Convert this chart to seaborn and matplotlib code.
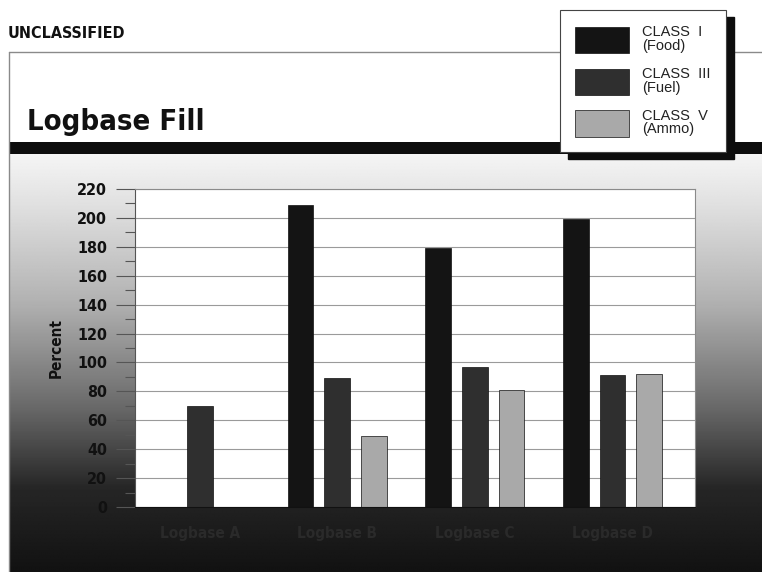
import numpy as np
import pandas as pd
import matplotlib
matplotlib.use("Agg")
import matplotlib.pyplot as plt
from matplotlib.patches import Rectangle
from matplotlib.ticker import MultipleLocator
import seaborn as sns

# data
logbases = ["Logbase A", "Logbase B", "Logbase C", "Logbase D"]
class_i = [np.nan, 209, 179, 199]
class_iii = [70, 89, 97, 91]
class_v = [np.nan, 49, 81, 92]
classes = ["CLASS  I\n(Food)", "CLASS  III\n(Fuel)", "CLASS  V\n(Ammo)"]
colors = ["#141414", "#2f2f2f", "#a9a9a9"]

df = pd.DataFrame({
    "logbase": logbases * 3,
    "cls": [classes[0]] * 4 + [classes[1]] * 4 + [classes[2]] * 4,
    "pct": class_i + class_iii + class_v,
})

sns.set_style("white")
plt.rcParams["font.family"] = ["Liberation Sans", "DejaVu Sans"]
cond = dict(family="DejaVu Sans", stretch="condensed", fontweight="bold")

W, H = 762, 572
fig = plt.figure(figsize=(W / 100, H / 100), dpi=100)
fig.patch.set_facecolor("white")

# background: page frame + dark gradient under the chart
bg = fig.add_axes([0, 0, 1, 1], zorder=-10)
bg.set_xlim(0, W)
bg.set_ylim(H, 0)
bg.axis("off")
t = np.linspace(0, 1, 300)
shade = np.interp(t, [0, 0.12, 0.35, 0.6, 0.8, 1], [0.96, 0.88, 0.7, 0.42, 0.15, 0.07])
grad = np.tile(shade[:, None], (1, 50))
bg.imshow(grad, cmap="gray", vmin=0, vmax=1, aspect="auto",
          extent=(9, W, H, 154), interpolation="bilinear")
bg.plot([9, W], [52, 52], color="#8a8a8a", lw=1)
bg.plot([9, 9], [52, H], color="#8a8a8a", lw=1)
bg.add_patch(Rectangle((9, 142), W - 9, 12, color="#0d0d0d", lw=0))
bg.text(8, 33, "UNCLASSIFIED", fontsize=11.5, va="center", color="#111111", **cond)
bg.text(27, 122, "Logbase Fill", fontsize=21, va="center", color="#111111", **cond)

ax = fig.add_axes([135 / W, 1 - 507 / H, (695 - 135) / W, (507 - 189) / H])
ax.set_facecolor("white")
sns.barplot(data=df, x="logbase", y="pct", hue="cls", hue_order=classes,
            palette=colors, width=0.8, gap=0.3, edgecolor="#101010",
            linewidth=0.5, ax=ax)

ax.set_ylim(0, 220)
ax.set_xlim(-0.47, 3.6)
ax.yaxis.set_major_locator(MultipleLocator(20))
ax.yaxis.set_minor_locator(MultipleLocator(10))
ax.grid(axis="y", which="major", color="#9a9a9a", lw=0.8)
ax.set_axisbelow(True)
ax.tick_params(axis="y", which="major", left=True, length=14, width=0.8,
               color="#555555", pad=6, labelsize=11.5, labelcolor="#111111")
ax.tick_params(axis="y", which="minor", left=True, length=7, width=0.8,
               color="#555555")
ax.tick_params(axis="x", length=0, pad=14, labelsize=11, labelcolor="#2a2a2a")
for lab in ax.get_yticklabels() + ax.get_xticklabels():
    lab.set_family("DejaVu Sans")
    lab.set_stretch("condensed")
    lab.set_fontweight("bold")
ax.set_xlabel("")
ax.set_ylabel("Percent", fontsize=11, color="#111111", labelpad=10, **cond)
for side in ["top", "right"]:
    ax.spines[side].set_color("#8a8a8a")
    ax.spines[side].set_linewidth(0.8)
ax.spines["left"].set_color("#555555")
ax.spines["bottom"].set_color("#111111")

handles, labels = ax.get_legend_handles_labels()
ax.legend_.remove()
leg = fig.legend(handles, labels, loc="upper left",
                 bbox_to_anchor=(560 / W, 1 - 10 / H), frameon=True,
                 fancybox=False, edgecolor="#444444", facecolor="white",
                 framealpha=1, fontsize=10.5, handlelength=3.7, handleheight=2.4,
                 labelspacing=0.95, borderpad=1.05, handletextpad=0.9,
                 borderaxespad=0)
leg.get_frame().set_linewidth(0.8)
leg.set_zorder(20)
for txt in leg.get_texts():
    txt.set_color("#222222")
    txt.set_linespacing(0.95)

fig.canvas.draw()
bb = leg.get_window_extent()
fig.patches.append(Rectangle((bb.x0 + 8, bb.y0 - 7), bb.width, bb.height,
                             transform=None, color="#0d0d0d", zorder=15,
                             figure=fig))

fig.savefig("out.png", dpi=100)
